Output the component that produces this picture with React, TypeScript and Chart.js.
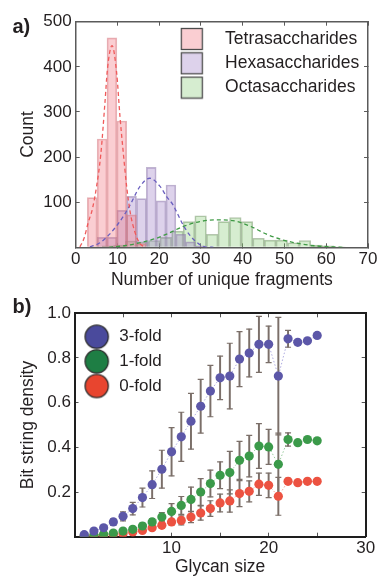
import React, { useEffect, useRef } from 'react';
import { Chart, registerables } from 'chart.js';

Chart.register(...registerables);

const FONT = '"Liberation Sans", Arial, Helvetica, sans-serif';
const TEXT = '#231f20';
Chart.defaults.font.family = FONT;

// ---------------- panel a) : histogram data ----------------
const tetraBins = [3.96, 6.32, 8.67, 11.03, 13.38, 15.74];
const tetraCounts = [110, 240, 464, 280, 72, 8];
const hexaBins = [6.32, 8.67, 11.03, 13.38, 15.74, 18.09, 20.45, 22.8, 25.16, 27.51, 29.87];
const hexaCounts = [22, 22, 82, 113, 108, 177, 103, 138, 29, 12, 3];
const octaBins = [4.93, 7.71, 10.48, 13.26, 16.03, 18.81, 21.58, 24.36, 27.13, 29.91, 32.68, 35.46, 38.23, 41.01, 43.78, 46.56, 49.33, 52.11, 54.88, 57.66, 60.43, 63.21];
const octaCounts = [1, 3, 5, 14, 12, 15, 22, 36, 57, 70, 29, 57, 66, 57, 20, 16, 16, 10, 15, 5, 3, 1];

const tetraFitX = [1, 2, 3, 4, 5, 6, 7, 7.6, 8.7, 9.8, 10.6, 11.4, 12.2, 13, 14.2, 15.4, 16.5];
const tetraFitY = [1, 20, 55, 85, 135, 205, 320, 395, 447, 387, 290, 209, 135, 80, 33, 8, 1];
const hexaFitX = [3.4, 5.8, 8, 10.4, 12.8, 15.4, 17.7, 20.2, 21.8, 23.3, 24.5, 25.7, 27.3, 28.9, 30.9, 33];
const hexaFitY = [1, 10, 28, 55, 90, 135, 153, 135, 112, 94, 72, 50, 27, 12, 1, 0];
const octaFitX = [8, 12, 15.8, 19, 22, 25.7, 29.7, 33.7, 37.7, 41.7, 45.7, 49.7, 53.7, 57.7, 61.6, 64];
const octaFitY = [0, 4, 11, 19, 30, 46, 57, 61, 59, 47, 29, 16, 8, 3, 1, 0];

const histLabels = ['Tetrasaccharides', 'Hexasaccharides', 'Octasaccharides'];
const aXLabels = [0, 10, 20, 30, 40, 50, 60, 70];
const aYLabels = [100, 200, 300, 400, 500];

// ---------------- panel b) : bit string density ----------------
const glycanSizes = [1, 2, 3, 4, 5, 6, 7, 8, 9, 10, 11, 12, 13, 14, 15, 16, 17, 18, 19, 20, 21, 22, 23, 24, 25];
const threeFold = [0.009, 0.025, 0.04, 0.066, 0.091, 0.126, 0.175, 0.233, 0.302, 0.38, 0.447, 0.517, 0.584, 0.652, 0.711, 0.719, 0.795, 0.822, 0.861, 0.861, 0.719, 0.886, 0.87, 0.877, 0.901];
const threeErr = [0.004, 0.006, 0.008, 0.015, 0.02, 0.028, 0.042, 0.062, 0.085, 0.108, 0.11, 0.125, 0.12, 0.115, 0.097, 0.147, 0.123, 0.107, 0.125, 0.082, 0.263, 0.038, 0, 0, 0];
const oneFold = [0.004, 0.008, 0.011, 0.016, 0.025, 0.033, 0.048, 0.066, 0.088, 0.113, 0.14, 0.167, 0.2, 0.238, 0.275, 0.287, 0.342, 0.361, 0.406, 0.402, 0.324, 0.435, 0.421, 0.435, 0.429];
const oneErr = [0.002, 0.003, 0.004, 0.006, 0.008, 0.01, 0.013, 0.015, 0.02, 0.035, 0.04, 0.055, 0.06, 0.06, 0.06, 0.095, 0.085, 0.093, 0.1, 0.078, 0.14, 0.03, 0, 0, 0];
const zeroFold = [0.001, 0.003, 0.006, 0.01, 0.013, 0.021, 0.028, 0.04, 0.051, 0.066, 0.073, 0.088, 0.106, 0.126, 0.151, 0.16, 0.193, 0.203, 0.235, 0.23, 0.181, 0.248, 0.242, 0.248, 0.248];
const zeroErr = [0.001, 0.001, 0.002, 0.003, 0.004, 0.005, 0.007, 0.008, 0.01, 0.012, 0.02, 0.025, 0.032, 0.035, 0.04, 0.05, 0.058, 0.047, 0.05, 0.055, 0.085, 0.013, 0, 0, 0];
const foldLabels = ['3-fold', '1-fold', '0-fold'];
const bXLabels = [10, 20, 30];
const bYLabels = [0.2, 0.4, 0.6, 0.8, 1.0];

// ---------------- styling ----------------
const histFill = ['rgba(240,110,122,0.34)', 'rgba(160,130,200,0.36)', 'rgba(128,198,108,0.32)'];
const histEdge = ['rgba(210,120,128,0.55)', 'rgba(140,120,170,0.55)', 'rgba(120,150,110,0.55)'];
const fitColor = ['#f05a5a', '#6a5fbf', '#3f9a45'];
const foldColor = ['#5c57a8', '#3b9a4a', '#ec5241'];
const foldLegendColor = ['#4a4a9c', '#1e7e44', '#e8452f'];
const foldLine = ['rgba(120,115,205,0.6)', 'rgba(70,160,80,0.55)', 'rgba(236,90,70,0.55)'];
const ERR = '#7b6f69';

function makeBox(fill: string) {
  const c = document.createElement('canvas');
  c.width = 24; c.height = 24;
  const g = c.getContext('2d')!;
  g.fillStyle = '#fff'; g.fillRect(1, 1, 22, 22);
  g.fillStyle = fill; g.fillRect(1, 1, 22, 22);
  g.strokeStyle = '#4d4d4d'; g.lineWidth = 1.3; g.strokeRect(1.5, 1.5, 21, 21);
  return c;
}
function makeCircle(fill: string) {
  const c = document.createElement('canvas');
  c.width = 27; c.height = 27;
  const g = c.getContext('2d')!;
  g.beginPath(); g.arc(13.5, 13.5, 11.6, 0, Math.PI * 2);
  g.fillStyle = fill; g.fill();
  g.lineWidth = 1.3; g.strokeStyle = '#2a2a2a'; g.stroke();
  return c;
}

const placeLegend = (left: number, top: number) => ({
  id: 'placeLegend',
  afterLayout(chart: any) {
    const lg = chart.legend;
    if (!lg) return;
    lg.left = left; lg.top = top; lg.right = left + 260; lg.bottom = top + 200;
    lg.width = 260; lg.height = 200;
  },
});

const innerGrid = (color: string) => ({ drawOnChartArea: false, drawTicks: true, tickLength: -4, color, lineWidth: 1, offset: false });

function histConfig(): any {
  const hidden = () => ({ type: 'linear', min: 0, max: 70, display: false, offset: false, ticks: { stepSize: 70 } });
  const toPts = (xs: number[], ys: number[]) => xs.map((x, i) => ({ x, y: ys[i] }));
  const bar = (i: number, xs: number[], ys: number[], axis: string) => ({
    type: 'bar', label: histLabels[i], data: toPts(xs, ys), xAxisID: axis, yAxisID: 'y',
    backgroundColor: histFill[i], borderColor: histEdge[i], borderWidth: 1,
    barPercentage: 1, categoryPercentage: 1, grouped: false, order: 2,
  });
  const fit = (i: number, xs: number[], ys: number[]) => ({
    type: 'line', label: histLabels[i] + ' fit', data: toPts(xs, ys), xAxisID: 'x', yAxisID: 'y',
    borderColor: fitColor[i], borderWidth: 1.3, borderDash: [4, 3], pointRadius: 0,
    cubicInterpolationMode: 'monotone', order: 0,
  });
  const frame = '#5a5a5a';
  const icons = histFill.map(makeBox);
  return {
    type: 'bar',
    data: {
      datasets: [
        bar(0, tetraBins, tetraCounts, 'xt'),
        bar(1, hexaBins, hexaCounts, 'xh'),
        bar(2, octaBins, octaCounts, 'xo'),
        fit(0, tetraFitX, tetraFitY),
        fit(1, hexaFitX, hexaFitY),
        fit(2, octaFitX, octaFitY),
      ],
    },
    options: {
      responsive: false, animation: false, events: [],
      layout: { padding: { left: 0, top: 21.7, right: 14.7, bottom: 4.5 } },
      scales: {
        x: {
          type: 'linear', position: 'bottom', min: 0, max: 70, offset: false,
          ticks: { stepSize: 10, autoSkip: false, maxRotation: 0, padding: 5.5, color: TEXT, font: { family: FONT, size: 17 },
            callback: (v: number) => (aXLabels.includes(v) ? String(v) : '') },
          grid: innerGrid(frame), border: { display: true, color: frame, width: 1.5 },
          title: { display: true, text: 'Number of unique fragments', color: TEXT, font: { family: FONT, size: 17.5 }, padding: { top: 0, bottom: 0 } },
          afterFit: (s: any) => { s.height = 43.2; },
        },
        xTop: {
          type: 'linear', position: 'top', min: 0, max: 70, offset: false,
          ticks: { display: false, stepSize: 10 },
          grid: innerGrid(frame), border: { display: true, color: frame, width: 1.5 },
          afterFit: (s: any) => { s.height = 0; },
        },
        xt: hidden(), xh: hidden(), xo: hidden(),
        y: {
          type: 'linear', position: 'left', min: 0, max: 500,
          ticks: { stepSize: 100, padding: 8, color: TEXT, font: { family: FONT, size: 17 },
            callback: (v: number) => (aYLabels.includes(v) ? String(v) : '') },
          grid: innerGrid(frame), border: { display: true, color: frame, width: 1.5 },
          title: { display: true, text: 'Count', color: TEXT, font: { family: FONT, size: 17.5 }, padding: { top: 17.5, bottom: 0 } },
          afterFit: (s: any) => { s.width = 75.7; },
        },
        yRight: {
          type: 'linear', position: 'right', min: 0, max: 500,
          ticks: { display: false, stepSize: 100 },
          grid: innerGrid(frame), border: { display: true, color: frame, width: 1.5 },
          afterFit: (s: any) => { s.width = 0; },
        },
      },
      plugins: {
        tooltip: { enabled: false },
        legend: {
          position: 'chartArea', align: 'start',
          labels: {
            usePointStyle: true, pointStyleWidth: 49, padding: 6.8, color: TEXT,
            font: { family: FONT, size: 17.5 },
            generateLabels: () => histLabels.map((t, i) => ({
              text: t, pointStyle: icons[i], fillStyle: histFill[i], strokeStyle: '#4d4d4d',
              lineWidth: 0, hidden: false, datasetIndex: i, fontColor: TEXT,
            })),
          },
        },
      },
    },
    plugins: [placeLegend(160.5, 23.45)],
  };
}

function densityConfig(): any {
  const series = [
    { v: threeFold, e: threeErr },
    { v: oneFold, e: oneErr },
    { v: zeroFold, e: zeroErr },
  ];
  const datasets: any[] = [];
  series.forEach((s, k) => {
    datasets.push({
      type: 'line', label: foldLabels[k], data: glycanSizes.map((x, i) => ({ x, y: s.v[i] })),
      borderColor: foldLine[k], borderWidth: 1, borderDash: [1.5, 2], pointRadius: 4.6,
      pointBackgroundColor: foldColor[k], pointBorderColor: foldColor[k], pointBorderWidth: 0, order: 0,
    });
  });
  series.forEach((s, k) => {
    const idx = glycanSizes.map((_, i) => i).filter((i) => s.e[i] > 0);
    datasets.push({
      type: 'bar', label: foldLabels[k] + ' err', data: idx.map((i) => ({ x: glycanSizes[i], y: [s.v[i] - s.e[i], s.v[i] + s.e[i]] })),
      backgroundColor: ERR, borderWidth: 0, barThickness: 1.3, grouped: false, order: 2,
    });
    datasets.push({
      type: 'line', label: foldLabels[k] + ' caps', showLine: false,
      data: idx.flatMap((i) => [{ x: glycanSizes[i], y: s.v[i] - s.e[i] }, { x: glycanSizes[i], y: s.v[i] + s.e[i] }]),
      pointStyle: 'line', pointRadius: 3, pointBorderColor: ERR, pointBorderWidth: 1.2, order: 1,
    });
  });
  const frame = '#1e1e1e';
  const icons = foldLegendColor.map(makeCircle);
  return {
    type: 'bar',
    data: { datasets },
    options: {
      responsive: false, animation: false, events: [],
      layout: { padding: { left: 0, top: 18.3, right: 17.3, bottom: 0 } },
      scales: {
        x: {
          type: 'linear', position: 'bottom', min: 0, max: 30, offset: false,
          ticks: { stepSize: 5, autoSkip: false, maxRotation: 0, padding: 5.6, color: TEXT, font: { family: FONT, size: 17 },
            callback: (v: number) => (bXLabels.includes(v) ? String(v) : '') },
          grid: innerGrid('#555'), border: { display: true, color: frame, width: 2 },
          title: { display: true, text: 'Glycan size', color: TEXT, font: { family: FONT, size: 17.5 }, padding: { top: 0, bottom: -1 } },
          afterFit: (s: any) => { s.height = 40.3; },
        },
        xTop: {
          type: 'linear', position: 'top', min: 0, max: 30, offset: false,
          ticks: { display: false, stepSize: 5 },
          grid: innerGrid('#555'), border: { display: true, color: frame, width: 2 },
          afterFit: (s: any) => { s.height = 0; },
        },
        y: {
          type: 'linear', position: 'left', min: 0, max: 1,
          ticks: { stepSize: 0.2, padding: 7.5, color: TEXT, font: { family: FONT, size: 17 },
            callback: (v: number) => (bYLabels.some((b) => Math.abs(b - v) < 1e-6) ? v.toFixed(1) : '') },
          grid: innerGrid('#555'), border: { display: true, color: frame, width: 2 },
          title: { display: true, text: 'Bit string density', color: TEXT, font: { family: FONT, size: 17.5 }, padding: { top: 17.5, bottom: 0 } },
          afterFit: (s: any) => { s.width = 74.5; },
        },
        yRight: {
          type: 'linear', position: 'right', min: 0, max: 1,
          ticks: { display: false, stepSize: 0.2 },
          grid: innerGrid('#555'), border: { display: true, color: frame, width: 2 },
          afterFit: (s: any) => { s.width = 0; },
        },
      },
      plugins: {
        tooltip: { enabled: false },
        legend: {
          position: 'chartArea', align: 'start',
          labels: {
            usePointStyle: true, pointStyleWidth: 28, padding: 7.65, color: TEXT,
            font: { family: FONT, size: 17 },
            generateLabels: () => foldLabels.map((t, i) => ({
              text: t, pointStyle: icons[i], fillStyle: foldLegendColor[i], strokeStyle: '#2a2a2a',
              lineWidth: 0, hidden: false, datasetIndex: i, fontColor: TEXT,
            })),
          },
        },
      },
    },
    plugins: [placeLegend(75.05, 25.55)],
  };
}

function ChartCanvas({ top, height, make }: { top: number; height: number; make: () => any }) {
  const ref = useRef<HTMLCanvasElement | null>(null);
  useEffect(() => {
    if (!ref.current) return;
    const chart = new Chart(ref.current, make());
    return () => chart.destroy();
  }, []);
  return (
    <canvas
      ref={ref}
      width={383}
      height={height}
      style={{ position: 'absolute', left: 0, top, width: 383, height, display: 'block' }}
    />
  );
}

const panelLabel: React.CSSProperties = {
  position: 'absolute', left: 12.5, fontFamily: FONT, fontWeight: 'bold', fontSize: 20, lineHeight: '20px', color: TEXT,
};

export default function App() {
  return (
    <div style={{ position: 'absolute', left: 0, top: 0, width: 383, height: 577, background: '#fff', overflow: 'hidden' }}>
      <ChartCanvas top={0} height={295} make={histConfig} />
      <ChartCanvas top={295} height={282} make={densityConfig} />
      <div style={{ ...panelLabel, top: 16 }}>a)</div>
      <div style={{ ...panelLabel, top: 296 }}>b)</div>
    </div>
  );
}
